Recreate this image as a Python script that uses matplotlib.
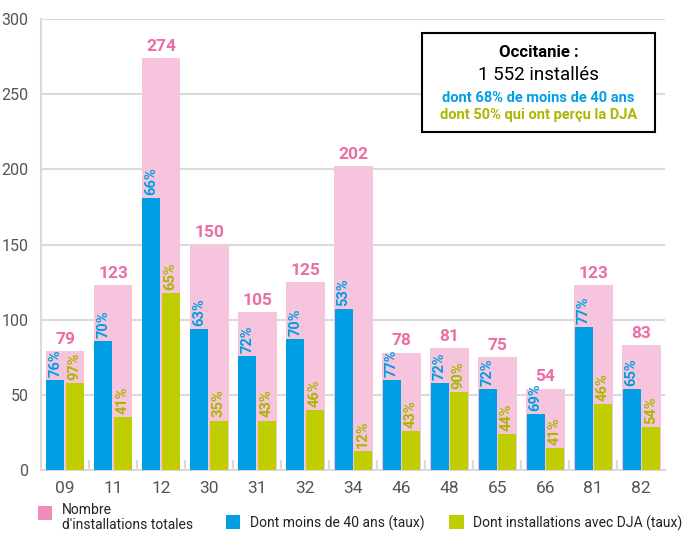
import numpy as np
import matplotlib.pyplot as plt
from matplotlib.patches import Rectangle

plt.rcParams['font.family'] = ['Roboto', 'DejaVu Sans']

# data
depts = ['09', '11', '12', '30', '31', '32', '34', '46', '48', '65', '66', '81', '82']
totals = [79, 123, 274, 150, 105, 125, 202, 78, 81, 75, 54, 123, 83]
moins40 = [60, 86, 181, 94, 76, 87, 107, 60, 58, 54, 37, 95, 54]
moins40_pct = [76, 70, 66, 63, 72, 70, 53, 77, 72, 72, 69, 77, 65]
dja = [58, 35, 118, 33, 33, 40, 13, 26, 52, 24, 15, 44, 29]
dja_pct = [97, 41, 65, 35, 43, 46, 12, 43, 90, 44, 41, 46, 54]

pink_bar = '#F6C4DC'
pink_txt = '#EC6DA6'
pink_leg = '#F08CBA'
blue = '#009FE3'
green = '#BFCE00'
green_txt = '#A9B700'
grid_col = '#DADADA'
tick_col = '#555555'

fig = plt.figure(figsize=(6.89, 5.33), dpi=100)
ax = fig.add_axes([0.0595, 0.118, 0.906, 0.846])

x = np.arange(len(depts))
ax.bar(x, totals, width=0.81, color=pink_bar, zorder=2)
ax.bar(x - 0.2, moins40, width=0.375, color=blue, zorder=3)
ax.bar(x + 0.2, dja, width=0.375, color=green, zorder=3)

for i in range(len(depts)):
    ax.text(x[i], totals[i] + 3, str(totals[i]), ha='center', va='bottom',
            color=pink_txt, fontsize=12.5, fontweight='bold')
    ax.text(x[i] - 0.2, moins40[i] + 2, f'{moins40_pct[i]}%', ha='center', va='bottom',
            rotation=90, color=blue, fontsize=10.5, fontweight='bold', zorder=4)
    ax.text(x[i] + 0.2, dja[i] + 2, f'{dja_pct[i]}%', ha='center', va='bottom',
            rotation=90, color=green_txt, fontsize=10.5, fontweight='bold', zorder=4)

ax.set_xlim(-0.5, 12.5)
ax.set_ylim(0, 300)
ax.set_yticks(range(0, 301, 50))
ax.set_xticks(x)
ax.set_xticklabels(depts)
ax.yaxis.grid(True, color=grid_col, lw=1.5, zorder=0)
ax.set_axisbelow(True)
ax.tick_params(axis='both', length=0, labelsize=12.5, colors=tick_col)
ax.tick_params(axis='y', labelsize=11.5, pad=9)
ax.tick_params(axis='x', pad=8)
ax.set_xticks(x[:-1] + 0.5, minor=True)
ax.tick_params(axis='x', which='minor', direction='in', length=7, width=1.5, color=grid_col)

for s in ['top', 'right']:
    ax.spines[s].set_visible(False)
for s in ['left', 'bottom']:
    ax.spines[s].set_color(grid_col)
    ax.spines[s].set_linewidth(1.5)

# info box
box = Rectangle((0.612, 0.752), 0.339, 0.186, transform=fig.transFigure,
                facecolor='white', edgecolor='black', lw=1.5, zorder=5)
fig.patches.append(box)
cx = 0.7815
fig.text(cx, 0.902, 'Occitanie :', ha='center', va='center', fontsize=12, fontweight='bold', zorder=6)
fig.text(cx, 0.859, '1 552 installés', ha='center', va='center', fontsize=13.5, zorder=6)
fig.text(cx, 0.817, 'dont 68% de moins de 40 ans', ha='center', va='center', fontsize=10.5,
         fontweight='bold', color=blue, zorder=6)
fig.text(cx, 0.784, 'dont 50% qui ont perçu la DJA', ha='center', va='center', fontsize=10.5,
         fontweight='bold', color=green_txt, zorder=6)

# legend
def leg_square(xf, yf, col):
    fig.patches.append(Rectangle((xf, yf), 0.021, 0.027, transform=fig.transFigure,
                                 facecolor=col, edgecolor='none'))

leg_square(0.055, 0.024, pink_leg)
fig.text(0.09, 0.029, "Nombre\nd'installations totales", ha='left', va='center',
         fontsize=10, color='#222222', linespacing=1.05)
leg_square(0.328, 0.007, blue)
fig.text(0.363, 0.019, 'Dont moins de 40 ans (taux)', ha='left', va='center',
         fontsize=10, color='#222222')
leg_square(0.652, 0.007, green)
fig.text(0.687, 0.019, 'Dont installations avec DJA (taux)', ha='left', va='center',
         fontsize=10, color='#222222')

fig.savefig('out.png', dpi=100)
